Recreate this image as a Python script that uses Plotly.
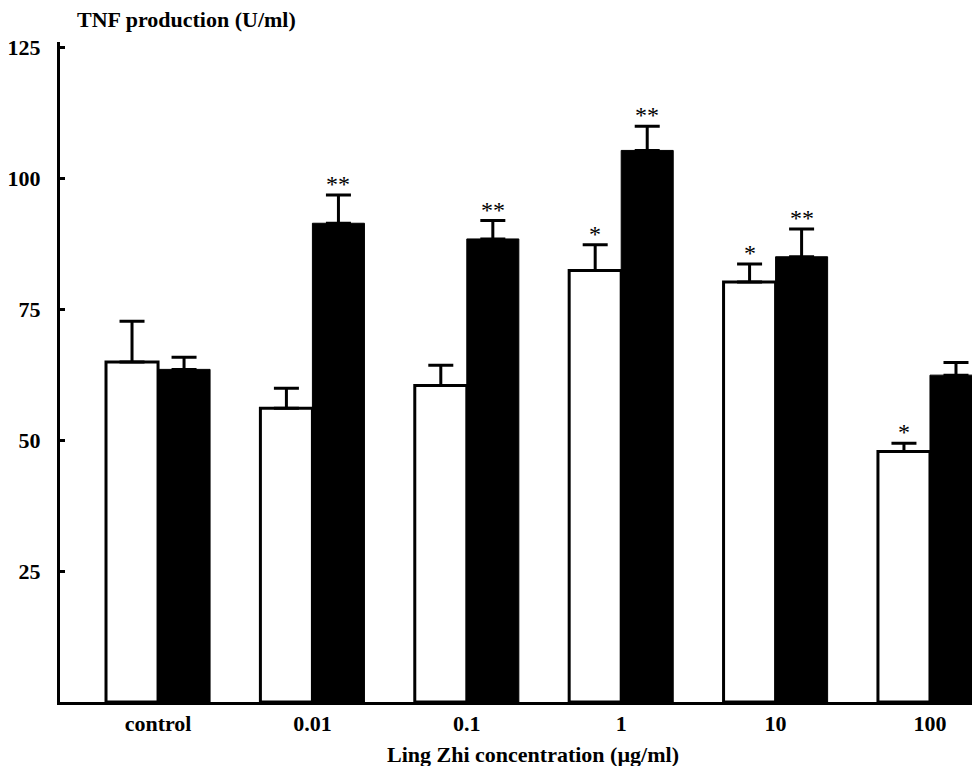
import plotly.graph_objects as go

categories = ["control", "0.01", "0.1", "1", "10", "100"]
white_vals = [64.9, 56.1, 60.4, 82.4, 80.2, 47.8]
white_err = [7.8, 3.8, 3.9, 4.9, 3.4, 1.6]
black_vals = [63.5, 91.4, 88.4, 105.3, 85.0, 62.4]
black_err = [2.3, 5.4, 3.5, 4.6, 5.3, 2.4]
white_sig = ["", "", "", "*", "*", "*"]
black_sig = ["", "**", "**", "**", "**", ""]
y_ticks = [25, 50, 75, 100, 125]

BW = 0.337
FONT = "Liberation Serif"
xpos = list(range(len(categories)))

fig = go.Figure()
fig.add_trace(go.Bar(
    x=xpos, y=white_vals, width=BW, offset=-BW,
    marker=dict(color="white", line=dict(color="black", width=3)),
    error_y=dict(type="data", symmetric=False, array=white_err,
                 arrayminus=[0] * len(white_err), color="black",
                 thickness=3, width=12.5),
    showlegend=False, hoverinfo="skip"))
fig.add_trace(go.Bar(
    x=xpos, y=black_vals, width=BW, offset=0,
    marker=dict(color="black", line=dict(color="black", width=1)),
    error_y=dict(type="data", symmetric=False, array=black_err,
                 arrayminus=[0] * len(black_err), color="black",
                 thickness=3, width=12.5),
    showlegend=False, hoverinfo="skip"))

anns = []
for i in xpos:
    if white_sig[i]:
        anns.append(dict(x=i - BW / 2, y=white_vals[i] + white_err[i],
                         text=white_sig[i], showarrow=False, yanchor="bottom",
                         yshift=-4, font=dict(family=FONT, size=24, color="black")))
    if black_sig[i]:
        anns.append(dict(x=i + BW / 2, y=black_vals[i] + black_err[i],
                         text=black_sig[i], showarrow=False, yanchor="bottom",
                         yshift=-4, font=dict(family=FONT, size=24, color="black")))

anns.append(dict(xref="paper", yref="paper", x=(533 - 60) / 920, y=-52 / 660,
                 text="<b>Ling Zhi concentration (µg/ml)</b>", showarrow=False,
                 xanchor="center", yanchor="middle",
                 font=dict(family=FONT, size=22, color="black")))
anns.append(dict(xref="paper", yref="paper", x=(75 - 60) / 920, y=1 + 22 / 660,
                 text="<b>TNF production (U/ml)</b>", showarrow=False,
                 xanchor="left", yanchor="middle",
                 font=dict(family=FONT, size=22, color="black")))

fig.update_layout(
    width=972, height=758,
    margin=dict(l=52, r=0, t=34, b=64),
    plot_bgcolor="white", paper_bgcolor="white",
    barmode="overlay",
    annotations=anns,
    xaxis=dict(range=[-0.635, 5.324], tickmode="array", tickvals=xpos,
               ticktext=["<b>%s</b>" % c for c in categories],
               showline=True, linecolor="black", linewidth=3,
               ticks="", showgrid=False, zeroline=False,
               tickfont=dict(family=FONT, size=22, color="black")),
    yaxis=dict(range=[0, 126], tickmode="array", tickvals=y_ticks,
               ticktext=["<b>%d</b>" % v for v in y_ticks],
               showline=True, linecolor="black", linewidth=3,
               ticks="inside", ticklen=5, tickwidth=3, tickcolor="black",
               ticklabelstandoff=12,
               showgrid=False, zeroline=False,
               tickfont=dict(family=FONT, size=22, color="black")),
)

fig.write_html("out.html")
